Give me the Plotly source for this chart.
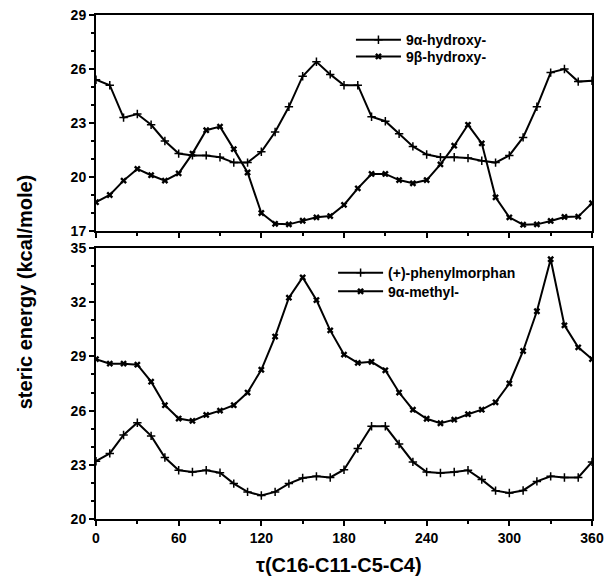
import plotly.graph_objects as go
from plotly.subplots import make_subplots

angle = list(range(0, 361, 10))

alpha_hydroxy = [25.4, 25.1, 23.3, 23.5, 22.9, 22.0, 21.3, 21.2, 21.2, 21.1, 20.8, 20.8, 21.4,
                 22.5, 23.9, 25.6, 26.4, 25.7, 25.1, 25.1, 23.35, 23.1, 22.4, 21.7, 21.25,
                 21.1, 21.1, 21.05, 20.9, 20.8, 21.2, 22.2, 23.9, 25.8, 26.0, 25.3, 25.35]
beta_hydroxy = [18.6, 19.0, 19.8, 20.45, 20.1, 19.8, 20.2, 21.3, 22.6, 22.8, 21.55, 20.25, 18.0,
                17.4, 17.37, 17.57, 17.76, 17.83, 18.45, 19.37, 20.17, 20.17, 19.83, 19.65, 19.83,
                20.7, 21.74, 22.9, 21.87, 18.87, 17.76, 17.35, 17.37, 17.56, 17.78, 17.8, 18.55]
phenylmorphan = [23.2, 23.63, 24.65, 25.33, 24.6, 23.4, 22.7, 22.6, 22.7, 22.56, 21.96, 21.5, 21.3,
                 21.5, 21.96, 22.27, 22.36, 22.3, 22.73, 23.9, 25.13, 25.13, 24.15, 23.16, 22.6,
                 22.55, 22.6, 22.7, 22.18, 21.57, 21.44, 21.58, 22.08, 22.36, 22.3, 22.3, 23.16]
alpha_methyl = [28.85, 28.6, 28.6, 28.54, 27.6, 26.3, 25.56, 25.43, 25.76, 26.0, 26.3, 27.0, 28.26,
                30.1, 32.25, 33.37, 32.12, 30.44, 29.1, 28.64, 28.7, 28.23, 27.0, 26.05, 25.55,
                25.3, 25.5, 25.8, 26.05, 26.46, 27.5, 29.3, 31.5, 34.38, 30.72, 29.5, 28.85]

x_ticks = [0, 60, 120, 180, 240, 300, 360]
top_ticks = [17, 20, 23, 26, 29]
bottom_ticks = [20, 23, 26, 29, 32, 35]

fig = make_subplots(rows=2, cols=1, shared_xaxes=False, vertical_spacing=0.0)

FONT = "Liberation Sans, Arial, sans-serif"
line = dict(color="black", width=2)
m1 = dict(symbol="cross-thin", size=6, line=dict(color="black", width=1.5), color="black")
m2 = dict(symbol="x", size=6, color="black", line=dict(width=0))

fig.add_trace(go.Scatter(x=angle, y=alpha_hydroxy, mode="lines+markers", name="9α-hydroxy-",
                         line=line, marker=m1, legend="legend", showlegend=True), row=1, col=1)
fig.add_trace(go.Scatter(x=angle, y=beta_hydroxy, mode="lines+markers", name="9β-hydroxy-",
                         line=line, marker=m2, legend="legend2", showlegend=True), row=1, col=1)
fig.add_trace(go.Scatter(x=angle, y=phenylmorphan, mode="lines+markers", name="(+)-phenylmorphan",
                         line=line, marker=m1, legend="legend3", showlegend=True), row=2, col=1)
fig.add_trace(go.Scatter(x=angle, y=alpha_methyl, mode="lines+markers", name="9α-methyl-",
                         line=line, marker=m2, legend="legend4", showlegend=True), row=2, col=1)

tickfont = dict(family=FONT, size=14, color="black", weight="bold")
axis_common = dict(showline=True, linewidth=2, linecolor="black", mirror=True, showgrid=False,
                   zeroline=False, ticks="outside", ticklen=5, tickwidth=1.5, tickcolor="black",
                   tickfont=tickfont)

fig.update_xaxes(**axis_common, range=[0, 360], tickvals=x_ticks,
                 minor=dict(tickvals=list(range(30, 360, 60)), ticklen=3, ticks="outside", tickcolor="black"))
fig.update_xaxes(showticklabels=False, row=1, col=1)

fig.update_yaxes(**axis_common, minor=dict(dtick=1, ticklen=3, ticks="outside", tickcolor="black"))
fig.update_yaxes(range=[17, 29], tickvals=top_ticks, domain=[0.5714, 1.0], row=1, col=1)
fig.update_yaxes(range=[20, 35], tickvals=bottom_ticks, domain=[0.0, 0.5377], row=2, col=1)

legfont = dict(family=FONT, size=14, color="black", weight="bold")
def leg(x, y):
    return dict(x=x, y=y, xanchor="left", yanchor="middle", font=legfont, visible=True,
                bgcolor="rgba(0,0,0,0)", itemwidth=45, borderwidth=0)

fig.update_layout(
    width=605, height=584,
    showlegend=True,
    margin=dict(l=96, r=13, t=15, b=65, autoexpand=False),
    plot_bgcolor="white", paper_bgcolor="white",
    legend=leg(0.514, 0.950),
    legend2=leg(0.514, 0.917),
    legend3=leg(0.478, 0.488),
    legend4=leg(0.478, 0.451),
)

titlefont = dict(family=FONT, size=20, color="black", weight="bold")
fig.add_annotation(text="steric energy (kcal/mole)", xref="paper", yref="paper", x=-0.143, y=0.45,
                   textangle=-90, showarrow=False, xanchor="center", yanchor="middle", font=titlefont)
fig.add_annotation(text="τ(C16-C11-C5-C4)", xref="paper", yref="paper", x=0.49, y=-0.091,
                   showarrow=False, xanchor="center", yanchor="middle", font=titlefont)

fig.write_html("out.html", config={"displayModeBar": False},
               post_script="document.body.style.margin='0px';document.body.style.padding='0px';")
